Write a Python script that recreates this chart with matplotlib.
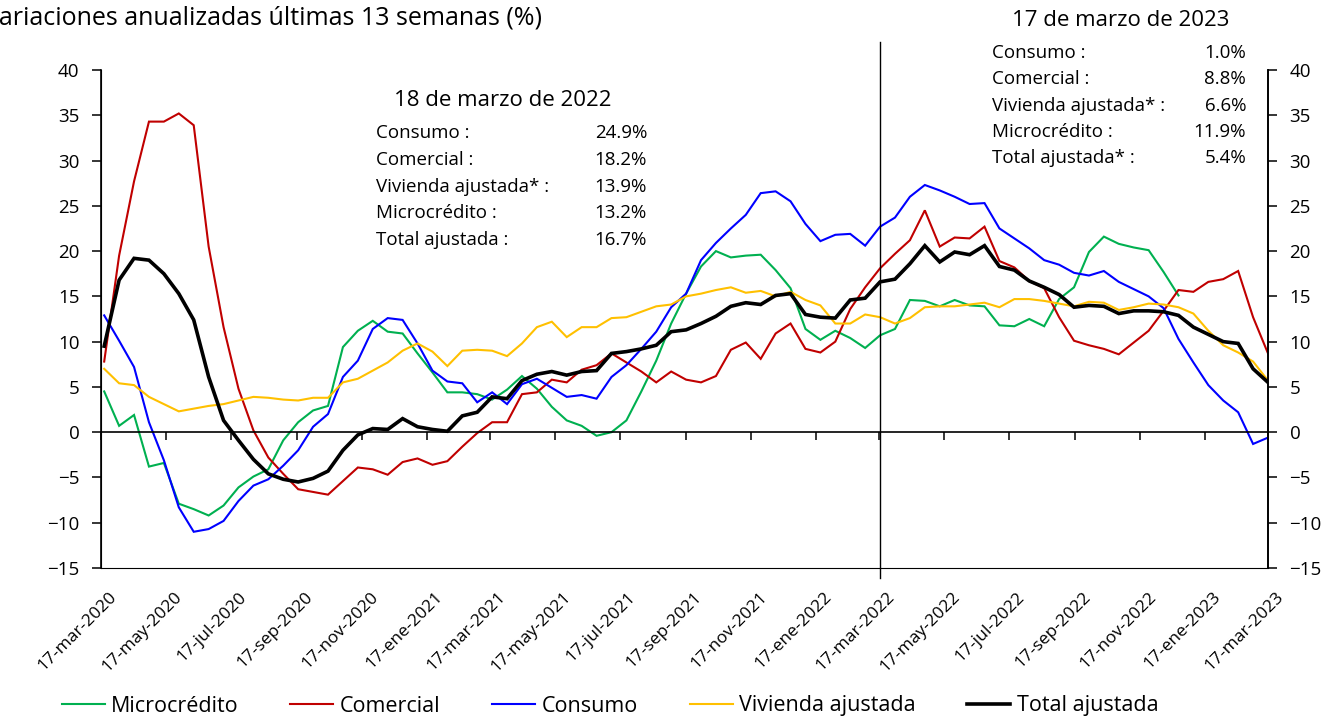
import numpy as np
import pandas as pd
import matplotlib
matplotlib.use("Agg")
import matplotlib.pyplot as plt
import matplotlib.transforms as mtransforms

plt.rcParams["font.family"] = ["Open Sans", "DejaVu Sans"]

# ── data (biweekly readings, % annualised 13-week change) ──
fechas = pd.date_range(end="2023-03-17", periods=79, freq="14D")

microcredito = [4.5, 0.7, 1.9, -3.8, -3.4, -7.9, -8.5, -9.2, -8.1, -6.1, -4.9, -4.1, -0.9, 1.1,
                2.4, 2.9, 9.4, 11.2, 12.3, 11.1, 10.9, 8.7, 6.6, 4.4, 4.4, 4.2, 3.6,
                4.7, 6.2, 4.8, 2.8, 1.3, 0.7, -0.4, 0.0, 1.3, 4.5, 7.9, 12.0, 15.3, 18.3,
                20.0, 19.3, 19.5, 19.6, 17.9, 15.9, 11.4, 10.2, 11.2, 10.4, 9.3, 10.7, 11.4,
                14.6, 14.5, 13.9, 14.6, 14.0, 13.9, 11.8, 11.7, 12.5, 11.7, 14.7, 16.0, 19.9, 21.6,
                20.8, 20.4, 20.1, 17.7, 15.1, np.nan, np.nan, np.nan, np.nan, np.nan, np.nan]
comercial = [7.8, 19.5, 27.7, 34.3, 34.3, 35.2, 33.9, 20.5, 11.6, 4.8, 0.2, -2.8, -4.6, -6.3,
             -6.6, -6.9, -5.4, -3.9, -4.1, -4.7, -3.3, -2.9, -3.6, -3.2, -1.6, -0.1, 1.1,
             1.1, 4.2, 4.4, 5.8, 5.5, 6.9, 7.4, 8.7, 7.7, 6.7, 5.5, 6.7, 5.8, 5.5,
             6.2, 9.1, 9.9, 8.1, 10.9, 12.0, 9.2, 8.8, 10.0, 13.6, 16.0, 18.1, 19.7,
             21.2, 24.5, 20.5, 21.5, 21.4, 22.7, 18.9, 18.2, 16.7, 15.9, 12.7, 10.1, 9.6, 9.2,
             8.6, 9.9, 11.2, 13.4, 15.7, 15.5, 16.6, 16.9, 17.8, 12.7, 8.7]
consumo = [12.9, 10.1, 7.2, 1.1, -3.1, -8.3, -11.0, -10.7, -9.8, -7.6, -5.9, -5.2, -3.7, -2.0,
           0.6, 2.0, 6.1, 7.9, 11.4, 12.6, 12.4, 9.8, 6.8, 5.6, 5.4, 3.3, 4.4,
           3.1, 5.3, 5.9, 4.9, 3.9, 4.1, 3.7, 6.1, 7.4, 9.2, 11.1, 13.8, 15.3, 19.0,
           20.9, 22.5, 24.0, 26.4, 26.6, 25.5, 23.0, 21.1, 21.8, 21.9, 20.6, 22.7, 23.7,
           26.0, 27.3, 26.7, 26.0, 25.2, 25.3, 22.5, 21.4, 20.3, 19.0, 18.5, 17.6, 17.3, 17.8,
           16.6, 15.8, 15.0, 13.7, 10.3, 7.7, 5.2, 3.5, 2.2, -1.3, -0.6]
vivienda = [7.0, 5.4, 5.2, 3.9, 3.1, 2.3, 2.6, 2.9, 3.1, 3.5, 3.9, 3.8, 3.6, 3.5,
            3.8, 3.8, 5.5, 5.9, 6.8, 7.7, 9.0, 9.8, 8.9, 7.3, 9.0, 9.1, 9.0,
            8.4, 9.8, 11.6, 12.2, 10.5, 11.6, 11.6, 12.6, 12.7, 13.3, 13.9, 14.1, 15.0, 15.3,
            15.7, 16.0, 15.4, 15.6, 15.0, 15.5, 14.6, 14.0, 12.0, 12.0, 13.0, 12.7, 12.0,
            12.6, 13.8, 13.9, 13.9, 14.1, 14.3, 13.8, 14.7, 14.7, 14.5, 14.2, 13.9, 14.4, 14.3,
            13.5, 13.8, 14.2, 14.1, 13.8, 13.1, 11.2, 9.6, 8.8, 7.8, 5.7]
total = [9.5, 16.8, 19.2, 19.0, 17.5, 15.3, 12.4, 6.1, 1.3, -0.9, -3.0, -4.6, -5.2, -5.5,
         -5.1, -4.3, -2.0, -0.3, 0.4, 0.3, 1.5, 0.6, 0.3, 0.1, 1.8, 2.2, 3.9,
         3.7, 5.7, 6.4, 6.7, 6.3, 6.7, 6.8, 8.7, 8.9, 9.2, 9.6, 11.1, 11.3, 12.0,
         12.8, 13.9, 14.3, 14.1, 15.1, 15.3, 13.0, 12.7, 12.6, 14.6, 14.8, 16.6, 16.9,
         18.6, 20.6, 18.8, 19.9, 19.6, 20.6, 18.3, 17.9, 16.7, 16.0, 15.2, 13.8, 14.0, 13.9,
         13.1, 13.4, 13.4, 13.3, 12.9, 11.6, 10.8, 10.0, 9.8, 7.0, 5.5]

meses = {1: "ene", 3: "mar", 5: "may", 7: "jul", 9: "sep", 11: "nov"}
tick_fechas = pd.date_range("2020-03-01", "2023-03-01", freq="2MS") + pd.Timedelta(days=16)
tick_labels = [f"17-{meses[d.month]}-{d.year}" for d in tick_fechas]

corte = pd.Timestamp("2022-03-18")
caja_2022 = [("Consumo :", "24.9%"), ("Comercial :", "18.2%"), ("Vivienda ajustada* :", "13.9%"),
             ("Microcrédito :", "13.2%"), ("Total ajustada :", "16.7%")]
caja_2023 = [("Consumo :", "1.0%"), ("Comercial :", "8.8%"), ("Vivienda ajustada* :", "6.6%"),
             ("Microcrédito :", "11.9%"), ("Total ajustada* :", "5.4%")]

W, H = 1332, 720
fig = plt.figure(figsize=(W / 100, H / 100), dpi=100)
ax = fig.add_axes([101 / W, 1 - 568 / H, 1167 / W, 498 / H])


def px(x, y):
    return x / W, 1 - y / H


series = [
    ("Microcrédito", microcredito, "#00B050", 1.5),
    ("Comercial", comercial, "#C00000", 1.5),
    ("Consumo", consumo, "#0000FF", 1.5),
    ("Vivienda ajustada", vivienda, "#FFC000", 1.5),
    ("Total ajustada", total, "black", 2.6),
]
for name, vals, col, lw in series:
    ax.plot(fechas, vals, color=col, lw=lw, label=name, solid_joinstyle="miter")

ax.set_xlim(pd.Timestamp("2020-03-17"), pd.Timestamp("2023-03-17"))
ax.set_ylim(-15, 40)
ax.set_yticks(np.arange(-15, 41, 5))

# x axis line at zero, labels at the bottom
ax.spines["top"].set_visible(False)
ax.spines["bottom"].set_position(("data", 0))
for s in ("left", "right", "bottom"):
    ax.spines[s].set_linewidth(1.2)
ax.set_xticks(tick_fechas)
ax.tick_params(axis="x", direction="out", length=6, width=1.1, labelbottom=False)
ax.tick_params(axis="y", direction="out", length=6.5, width=1.1, labelsize=13.5, pad=9)

sec = ax.secondary_xaxis(0)
sec.set_xticks(tick_fechas)
sec.set_xticklabels(tick_labels, rotation=45, ha="right", rotation_mode="anchor", fontsize=12.5)
sec.tick_params(length=0, pad=15)
sec.spines["bottom"].set_visible(False)
shift = mtransforms.ScaledTranslation(8 / 100, 0, fig.dpi_scale_trans)
for lab in sec.get_xticklabels():
    lab.set_transform(lab.get_transform() + shift)

ax2 = ax.twinx()
ax2.set_ylim(ax.get_ylim())
ax2.set_yticks(np.arange(-15, 41, 5))
ax2.spines["top"].set_visible(False)
ax2.spines["right"].set_linewidth(1.2)
ax2.tick_params(axis="y", direction="out", length=6.5, width=1.1, labelsize=13.5, pad=9)

ax.axvline(corte, ymin=-0.02, ymax=1.056, color="black", lw=1.0, clip_on=False, zorder=5)

# title (clipped at the left edge like the original)
fig.text(*px(-16, 18), "Variaciones anualizadas últimas 13 semanas (%)", fontsize=18,
         ha="left", va="center")

# annotation boxes
fig.text(*px(503, 101), "18 de marzo de 2022", fontsize=16, ha="center", va="center")
for i, (lab, val) in enumerate(caja_2022):
    y = 133 + i * 26.8
    fig.text(*px(376, y), lab, fontsize=13.5, ha="left", va="center")
    fig.text(*px(647, y), val, fontsize=13.5, ha="right", va="center")

fig.text(*px(1121, 20), "17 de marzo de 2023", fontsize=16, ha="center", va="center")
for i, (lab, val) in enumerate(caja_2023):
    y = 53 + i * 26.3
    fig.text(*px(992, y), lab, fontsize=13.5, ha="left", va="center")
    fig.text(*px(1246, y), val, fontsize=13.5, ha="right", va="center")

fig.legend(loc="center", bbox_to_anchor=px(610, 706), ncol=5, frameon=False,
           fontsize=15.5, handlelength=2.0, columnspacing=2.4, handletextpad=0.3)

fig.savefig("out.png", dpi=100)
